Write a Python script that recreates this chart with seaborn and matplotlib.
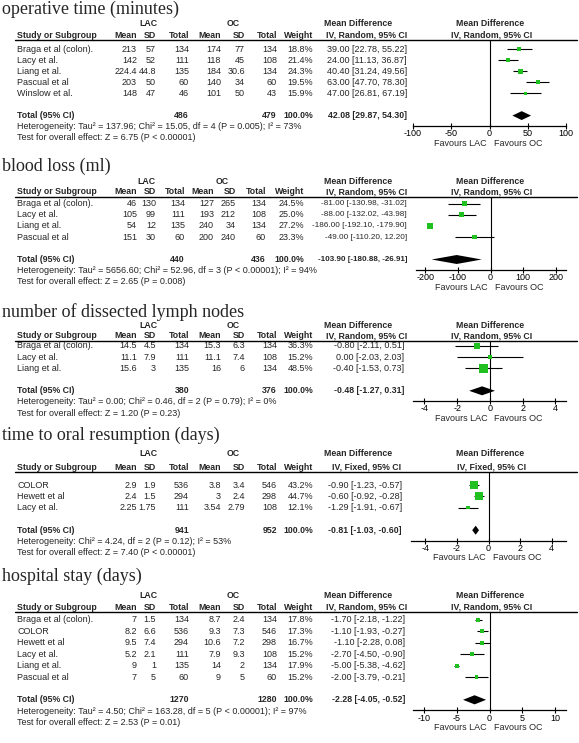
import numpy as np
import pandas as pd
import seaborn as sns
import matplotlib.pyplot as plt

sns.set_style('white')
plt.rcParams['font.family'] = ['Liberation Sans', 'DejaVu Sans']

W, H = 579, 743
FS = 6.5      # regular table text
FSB = 6.3     # bold header text
GREEN = '#20c020'

# ---- operative time (minutes) ----
op_study = ['Braga et al (colon).', 'Lacy et al.', 'Liang et al.', 'Pascual et al', 'Winslow et al.']
op_lac_mean = [213, 142, 224.4, 203, 148]
op_lac_sd = [57, 52, 44.8, 50, 47]
op_lac_n = [134, 111, 135, 60, 46]
op_oc_mean = [174, 118, 184, 140, 101]
op_oc_sd = [77, 45, 30.6, 34, 50]
op_oc_n = [134, 108, 134, 60, 43]
op_weight = [18.8, 21.4, 24.3, 19.5, 15.9]
op_md = [39.00, 24.00, 40.40, 63.00, 47.00]
op_lo = [22.78, 11.13, 31.24, 47.70, 26.81]
op_hi = [55.22, 36.87, 49.56, 78.30, 67.19]
op_total = [486, 479, 42.08, 29.87, 54.30]

# ---- blood loss (ml) ----
bl_study = ['Braga et al (colon).', 'Lacy et al.', 'Liang et al.', 'Pascual et al']
bl_lac_mean = [46, 105, 54, 151]
bl_lac_sd = [130, 99, 12, 30]
bl_lac_n = [134, 111, 135, 60]
bl_oc_mean = [127, 193, 240, 200]
bl_oc_sd = [265, 212, 34, 240]
bl_oc_n = [134, 108, 134, 60]
bl_weight = [24.5, 25.0, 27.2, 23.3]
bl_md = [-81.00, -88.00, -186.00, -49.00]
bl_lo = [-130.98, -132.02, -192.10, -110.20]
bl_hi = [-31.02, -43.98, -179.90, 12.20]
bl_total = [440, 436, -103.90, -180.88, -26.91]

# ---- number of dissected lymph nodes ----
ln_study = ['Braga et al (colon).', 'Lacy et al.', 'Liang et al.']
ln_lac_mean = [14.5, 11.1, 15.6]
ln_lac_sd = [4.5, 7.9, 3]
ln_lac_n = [134, 111, 135]
ln_oc_mean = [15.3, 11.1, 16]
ln_oc_sd = [6.3, 7.4, 6]
ln_oc_n = [134, 108, 134]
ln_weight = [36.3, 15.2, 48.5]
ln_md = [-0.80, 0.00, -0.40]
ln_lo = [-2.11, -2.03, -1.53]
ln_hi = [0.51, 2.03, 0.73]
ln_total = [380, 376, -0.48, -1.27, 0.31]

# ---- time to oral resumption (days) ----
or_study = ['COLOR', 'Hewett et al', 'Lacy et al.']
or_lac_mean = [2.9, 2.4, 2.25]
or_lac_sd = [1.9, 1.5, 1.75]
or_lac_n = [536, 294, 111]
or_oc_mean = [3.8, 3, 3.54]
or_oc_sd = [3.4, 2.4, 2.79]
or_oc_n = [546, 298, 108]
or_weight = [43.2, 44.7, 12.1]
or_md = [-0.90, -0.60, -1.29]
or_lo = [-1.23, -0.92, -1.91]
or_hi = [-0.57, -0.28, -0.67]
or_total = [941, 952, -0.81, -1.03, -0.60]

# ---- hospital stay (days) ----
hs_study = ['Braga et al (colon).', 'COLOR', 'Hewett et al', 'Lacy et al.', 'Liang et al.', 'Pascual et al']
hs_lac_mean = [7, 8.2, 9.5, 5.2, 9, 7]
hs_lac_sd = [1.5, 6.6, 7.4, 2.1, 1, 5]
hs_lac_n = [134, 536, 294, 111, 135, 60]
hs_oc_mean = [8.7, 9.3, 10.6, 7.9, 14, 9]
hs_oc_sd = [2.4, 7.3, 7.2, 9.3, 2, 5]
hs_oc_n = [134, 546, 298, 108, 134, 60]
hs_weight = [17.8, 17.3, 16.7, 15.2, 17.9, 15.2]
hs_md = [-1.70, -1.10, -1.10, -2.70, -5.00, -2.00]
hs_lo = [-2.18, -1.93, -2.28, -4.50, -5.38, -3.79]
hs_hi = [-1.22, -0.27, 0.08, -0.90, -4.62, -0.21]
hs_total = [1270, 1280, -2.28, -4.05, -0.52]

titles = ['operative time (minutes)', 'blood loss (ml)', 'number of dissected lymph nodes',
          'time to oral resumption (days)', 'hospital stay (days)']
methods = ['IV, Random, 95% CI', 'IV, Random, 95% CI', 'IV, Random, 95% CI',
           'IV, Fixed, 95% CI', 'IV, Random, 95% CI']
hetero = ['Heterogeneity: Tau\u00b2 = 137.96; Chi\u00b2 = 15.05, df = 4 (P = 0.005); I\u00b2 = 73%',
          'Heterogeneity: Tau\u00b2 = 5656.60; Chi\u00b2 = 52.96, df = 3 (P < 0.00001); I\u00b2 = 94%',
          'Heterogeneity: Tau\u00b2 = 0.00; Chi\u00b2 = 0.46, df = 2 (P = 0.79); I\u00b2 = 0%',
          'Heterogeneity: Chi\u00b2 = 4.24, df = 2 (P = 0.12); I\u00b2 = 53%',
          'Heterogeneity: Tau\u00b2 = 4.50; Chi\u00b2 = 163.28, df = 5 (P < 0.00001); I\u00b2 = 97%']
overall = ['Test for overall effect: Z = 6.75 (P < 0.00001)',
           'Test for overall effect: Z = 2.65 (P = 0.008)',
           'Test for overall effect: Z = 1.20 (P = 0.23)',
           'Test for overall effect: Z = 7.40 (P < 0.00001)',
           'Test for overall effect: Z = 2.53 (P = 0.01)']
ticks = [[-100, -50, 0, 50, 100], [-200, -100, 0, 100, 200], [-4, -2, 0, 2, 4],
         [-4, -2, 0, 2, 4], [-10, -5, 0, 5, 10]]

tables = []
for pre in ['op', 'bl', 'ln', 'or', 'hs']:
    g = globals()
    tables.append(pd.DataFrame({
        'study': g[pre + '_study'], 'lac_mean': g[pre + '_lac_mean'], 'lac_sd': g[pre + '_lac_sd'],
        'lac_n': g[pre + '_lac_n'], 'oc_mean': g[pre + '_oc_mean'], 'oc_sd': g[pre + '_oc_sd'],
        'oc_n': g[pre + '_oc_n'], 'weight': g[pre + '_weight'], 'md': g[pre + '_md'],
        'lo': g[pre + '_lo'], 'hi': g[pre + '_hi']}))
totals = [op_total, bl_total, ln_total, or_total, hs_total]

# layout in pixels (y from top): title baseline, LAC row, header row, rule, first row, row pitch,
# right edges of the numeric columns, right edge of the CI column, group label centres
std_cols = [137, 156, 189, 221, 245, 277, 313]
layout = [
    dict(title=14, lac=23, head=35, rule=40, row0=49, pitch=11.1, xlim=(-100, 100), axl=413,
         cols=std_cols, ci=407, grp=(148, 233)),
    dict(title=171, lac=181, head=192, rule=197, row0=203.5, pitch=11.2, xlim=(-229, 232), axl=416,
         cols=[137, 156, 185, 214, 236, 266, 304], ci=407, grp=(146, 222)),
    dict(title=317, lac=326, head=336, rule=340.5, row0=346, pitch=11.2, xlim=(-4.7, 4.65), axl=413,
         cols=std_cols, ci=404, grp=(148, 233)),
    dict(title=440, lac=453, head=467, rule=472, row0=485, pitch=11.3, xlim=(-4.9, 4.9), axl=411,
         cols=std_cols, ci=402, grp=(148, 233)),
    dict(title=581, lac=595, head=607, rule=612, row0=620, pitch=11.4, xlim=(-11.7, 11.7), axl=413,
         cols=std_cols, ci=405, grp=(148, 233)),
]
col_names = ['Mean', 'SD', 'Total', 'Mean', 'SD', 'Total', 'Weight']
ax_right = 566

fig = plt.figure(figsize=(W / 100, H / 100), dpi=100)
bg = fig.add_axes([0, 0, 1, 1])
bg.set_xlim(0, W)
bg.set_ylim(H, 0)
bg.axis('off')


def txt(x, y, s, **kw):
    kw.setdefault('va', 'center')
    kw.setdefault('fontsize', FSB if kw.get('weight') == 'bold' else FS)
    bg.text(x, y, s, **kw)


def ci_text(md, lo, hi):
    return f'{md:.2f} [{lo:.2f}, {hi:.2f}]'


for k, (df, tot, lay) in enumerate(zip(tables, totals, layout)):
    n = len(df)
    p = lay['pitch']
    y0 = lay['row0']
    cols = lay['cols']
    txt(2, lay['title'], titles[k], family='Liberation Serif', fontsize=13, va='baseline')
    txt(lay['grp'][0], lay['lac'], 'LAC', ha='center', weight='bold')
    txt(lay['grp'][1], lay['lac'], 'OC', ha='center', weight='bold')
    txt(358, lay['lac'], 'Mean Difference', ha='center', weight='bold')
    txt(490, lay['lac'], 'Mean Difference', ha='center', weight='bold')
    txt(17, lay['head'], 'Study or Subgroup', weight='bold')
    for name, x in zip(col_names, cols):
        txt(x, lay['head'], name, ha='right', weight='bold')
    txt(367, lay['head'], methods[k], ha='center', weight='bold')
    txt(492, lay['head'], methods[k], ha='center', weight='bold')
    bg.plot([15, 577], [lay['rule'], lay['rule']], color='black', lw=1)

    for i, r in df.iterrows():
        y = y0 + i * p
        txt(17, y, r['study'])
        vals = [r['lac_mean'], r['lac_sd'], r['lac_n'], r['oc_mean'], r['oc_sd'], r['oc_n']]
        for v, x in zip(vals, cols):
            txt(x, y, f'{v:g}', ha='right')
        txt(cols[-1], y, f"{r['weight']:.1f}%", ha='right')
        s = ci_text(r['md'], r['lo'], r['hi'])
        txt(lay['ci'], y, s, ha='right', fontsize=FS if len(s) <= 22 else 5.9)

    yt = y0 + (n + 1) * p
    txt(17, yt, 'Total (95% CI)', weight='bold')
    txt(cols[2], yt, f'{tot[0]}', ha='right', weight='bold')
    txt(cols[5], yt, f'{tot[1]}', ha='right', weight='bold')
    txt(cols[6], yt, '100.0%', ha='right', weight='bold')
    s = ci_text(tot[2], tot[3], tot[4])
    txt(lay['ci'], yt, s, ha='right', weight='bold', fontsize=FSB if len(s) <= 22 else 5.8)
    txt(17, y0 + (n + 2) * p, hetero[k])
    txt(17, y0 + (n + 3) * p, overall[k])

    # forest plot
    axis_y = y0 + (n + 2) * p - 1
    ax = fig.add_axes([lay['axl'] / W, 1 - axis_y / H, (ax_right - lay['axl']) / W,
                       (axis_y - lay['rule']) / H])
    df['row'] = np.arange(n)
    ax.hlines(df['row'], df['lo'], df['hi'], color='black', lw=0.8, zorder=2)
    # square side grows with the study weight
    sizes = ((1.5 + 0.14 * df['weight']) * 0.72) ** 2
    sns.scatterplot(data=df, x='md', y='row', marker='s', color=GREEN, s=sizes,
                    edgecolor='none', linewidth=0, zorder=3, legend=False, ax=ax)
    ax.axvline(0, color='black', lw=0.8, zorder=1)
    tr = n + 1
    ax.fill([tot[3], tot[2], tot[4], tot[2]], [tr, tr - 0.4, tr, tr + 0.4], color='black', lw=0, zorder=3)
    ax.set_xlim(*lay['xlim'])
    ax.set_ylim((axis_y - y0) / p, (lay['rule'] - y0) / p)
    ax.set_xticks(ticks[k])
    ax.set_xticklabels([str(t) for t in ticks[k]])
    ax.set_yticks([])
    ax.set_xlabel('')
    ax.set_ylabel('')
    ax.patch.set_alpha(0)
    for sp in ['top', 'left', 'right']:
        ax.spines[sp].set_visible(False)
    ax.spines['bottom'].set_linewidth(0.9)
    ax.spines['bottom'].set_color('black')
    ax.tick_params(axis='x', direction='inout', length=4, width=0.8, pad=0.5,
                   labelsize=FS, colors='black', bottom=True)
    ax.annotate('Favours LAC', xy=(0, 0), xycoords=('data', 'axes fraction'),
                xytext=(-2, -12.5), textcoords='offset points', ha='right', va='center', fontsize=FS)
    ax.annotate('Favours OC', xy=(0, 0), xycoords=('data', 'axes fraction'),
                xytext=(3, -12.5), textcoords='offset points', ha='left', va='center', fontsize=FS)

fig.savefig('out.png', dpi=100)
